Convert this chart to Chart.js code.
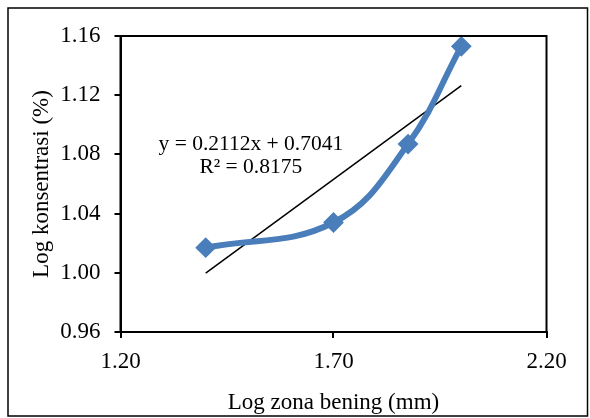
<!DOCTYPE html>
<html>
<head>
<meta charset="utf-8">
<style>
  html, body { margin: 0; padding: 0; background: #fff; }
  #wrap { width: 590px; height: 418px; position: relative; }
</style>
<script src="https://cdn.jsdelivr.net/npm/chart.js@4/dist/chart.umd.min.js"></script>
</head>
<body>
<div id="wrap"><canvas id="c" width="590" height="418"></canvas></div>
<script>
// Data
const xValues = [1.40, 1.70, 1.875, 2.00];
const yValues = [1.017, 1.034, 1.087, 1.153];
const trendX = [1.40, 2.00];
const trendY = [0.9998, 1.1265];
const xTicks = [1.20, 1.70, 2.20];
const yTicks = [0.96, 1.00, 1.04, 1.08, 1.12, 1.16];
const equationText = "y = 0.2112x + 0.7041";
const r2Text = "R\u00B2 = 0.8175";
const xTitle = "Log zona bening (mm)";
const yTitle = "Log konsentrasi (%)";

const serif = "'Liberation Serif', 'Times New Roman', serif";

const framePlugin = {
  id: 'frame',
  beforeDraw(chart) {
    const ctx = chart.ctx;
    ctx.save();
    ctx.fillStyle = '#fff';
    ctx.fillRect(0, 0, chart.width, chart.height);
    ctx.strokeStyle = '#000';
    ctx.lineWidth = 1.5;
    ctx.strokeRect(8, 8, 579.5, 408);
    ctx.restore();
  },
  afterDatasetsDraw(chart) {
    const ctx = chart.ctx;
    const a = chart.chartArea;
    ctx.save();
    ctx.strokeStyle = '#000';
    ctx.lineWidth = 2;
    ctx.strokeRect(a.left, a.top, a.right - a.left, a.bottom - a.top);
    // equation label
    const xs = chart.scales.x, ys = chart.scales.y;
    ctx.fillStyle = '#000';
    ctx.font = "21.5px " + serif;
    ctx.textAlign = 'center';
    ctx.textBaseline = 'middle';
    ctx.fillText(equationText, xs.getPixelForValue(1.506), ys.getPixelForValue(1.087));
    ctx.fillText(r2Text, xs.getPixelForValue(1.506), ys.getPixelForValue(1.071));
    ctx.restore();
  }
};

const pts = xValues.map((x, i) => ({x, y: yValues[i]}));
const trend = trendX.map((x, i) => ({x, y: trendY[i]}));

new Chart(document.getElementById('c'), {
  type: 'scatter',
  data: {
    datasets: [
      {
        data: trend,
        showLine: true,
        borderColor: '#000',
        borderWidth: 1.5,
        pointRadius: 0,
        tension: 0,
        order: 2
      },
      {
        data: pts,
        showLine: true,
        borderColor: '#4a7ebb',
        backgroundColor: '#4a7ebb',
        borderWidth: 6,
        tension: 0.4,
        pointStyle: 'rectRot',
        pointRadius: 9,
        pointBorderWidth: 2,
        pointBorderColor: '#4a7ebb',
        pointBackgroundColor: '#4a7ebb',
        order: 1
      }
    ]
  },
  options: {
    responsive: false,
    animation: false,
    devicePixelRatio: 1,
    layout: { padding: { left: 0, top: 36, right: 43.5, bottom: 0 } },
    plugins: { legend: { display: false }, tooltip: { enabled: false } },
    scales: {
      x: {
        type: 'linear',
        min: 1.2, max: 2.2,
        afterBuildTicks(s) { s.ticks = xTicks.map(v => ({value: v})); },
        afterFit(s) { s.height = 86; },
        ticks: {
          color: '#000',
          font: { family: serif, size: 23 },
          padding: 10,
          maxRotation: 0,
          callback: v => Number(v).toFixed(2)
        },
        grid: { display: true, drawOnChartArea: false, tickLength: 6, color: '#000', lineWidth: 2 },
        border: { display: true, color: '#000', width: 2 },
        title: {
          display: true, text: xTitle, color: '#000',
          font: { family: serif, size: 23 },
          padding: { top: 0, bottom: 1 }
        }
      },
      y: {
        type: 'linear',
        min: 0.96, max: 1.16,
        afterBuildTicks(s) { s.ticks = yTicks.map(v => ({value: v})); },
        afterFit(s) { s.width = 120.5; },
        ticks: {
          color: '#000',
          font: { family: serif, size: 23 },
          padding: 14,
          callback: v => Number(v).toFixed(2)
        },
        grid: { display: true, drawOnChartArea: false, tickLength: 6, color: '#000', lineWidth: 2 },
        border: { display: true, color: '#000', width: 2 },
        title: {
          display: true, text: yTitle, color: '#000',
          font: { family: serif, size: 23 },
          padding: { top: 28, bottom: 0 }
        }
      }
    }
  },
  plugins: [framePlugin]
});
</script>
</body>
</html>
